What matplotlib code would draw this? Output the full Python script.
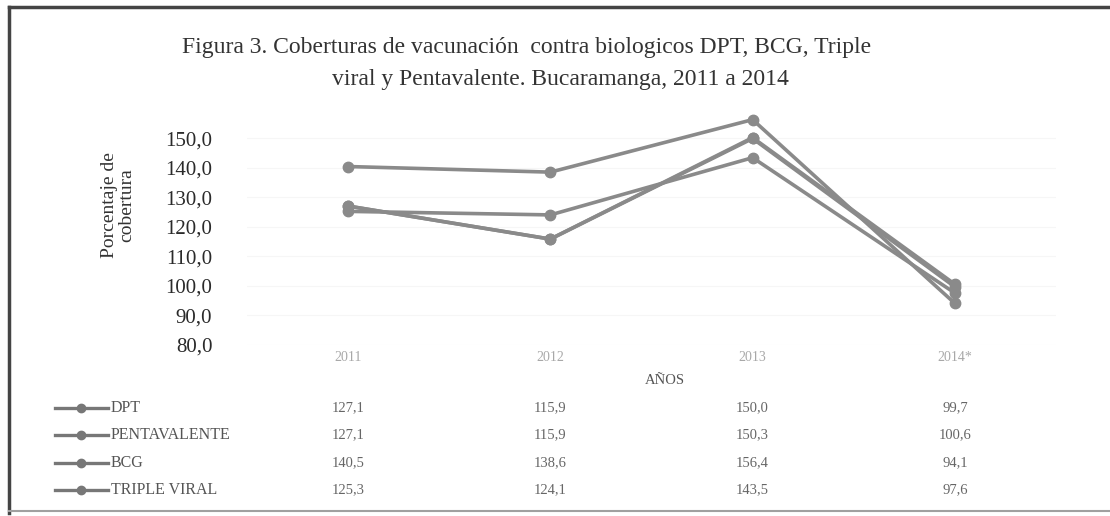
import matplotlib.pyplot as plt
from matplotlib.transforms import blended_transform_factory

plt.rcParams["font.family"] = ["Liberation Serif", "DejaVu Serif"]

years = ["2011", "2012", "2013", "2014*"]
series_names = ["DPT", "PENTAVALENTE", "BCG", "TRIPLE VIRAL"]
dpt = [127.1, 115.9, 150.0, 99.7]
pentavalente = [127.1, 115.9, 150.3, 100.6]
bcg = [140.5, 138.6, 156.4, 94.1]
triple_viral = [125.3, 124.1, 143.5, 97.6]
y_ticks = [80, 90, 100, 110, 120, 130, 140, 150]

title_1 = "Figura 3. Coberturas de vacunación  contra biologicos DPT, BCG, Triple"
title_2 = "viral y Pentavalente. Bucaramanga, 2011 a 2014"


def fmt(v):
    return f"{v:.1f}".replace(".", ",")


W, H = 1110, 516
fig = plt.figure(figsize=(W / 100, H / 100), dpi=100)

# overlay in pixel coordinates for frame, titles and the data table
ov = fig.add_axes([0, 0, 1, 1])
ov.set_xlim(0, W)
ov.set_ylim(H, 0)
ov.axis("off")

ax = fig.add_axes([247 / W, 1 - 345 / H, 809 / W, 236 / H])
ax.set_zorder(2)
ax.patch.set_alpha(0)

line_color = "#8a8a8a"
all_series = [dpt, pentavalente, bcg, triple_viral]
x = list(range(len(years)))
for vals in all_series:
    ax.plot(x, vals, color=line_color, lw=2.6, marker="o", ms=7.5, solid_capstyle="round")

ax.set_xlim(-0.5, len(years) - 0.5)
ax.set_ylim(80, 160)
ax.set_yticks(y_ticks)
ax.set_yticklabels([fmt(v) for v in y_ticks])
ax.set_xticks(x)
ax.set_xticklabels(years)
for s in ax.spines.values():
    s.set_visible(False)
ax.tick_params(axis="y", length=0, pad=25, labelsize=15, labelcolor="#2a2a2a")
ax.tick_params(axis="x", length=0, pad=4, labelsize=10, labelcolor="#a8a8a8")
ax.yaxis.grid(True, color="#f6f6f6", lw=0.8)
ax.set_axisbelow(True)

# frame
ov.plot([9, 9], [7, 513], color="#444444", lw=2.5)
ov.plot([9, W], [7, 7], color="#444444", lw=2.5)
ov.plot([9, W], [511, 511], color="#a0a0a0", lw=1.5)

# titles
ov.text(527, 47, title_1, ha="center", va="center", fontsize=17, color="#333333")
ov.text(560, 80, title_2, ha="center", va="center", fontsize=17, color="#333333")
ov.text(118, 205, "Porcentaje de\ncobertura", rotation=90, ha="center", va="center",
        fontsize=14, color="#333333", linespacing=1.0)
ov.text(665, 381, "AÑOS", ha="center", va="center", fontsize=10.5, color="#555555")

# data table with legend keys
row_y = [408, 435, 463, 490]
trans = blended_transform_factory(ax.transData, ov.transData)
for name, vals, y in zip(series_names, all_series, row_y):
    ov.plot([55, 108], [y, y], color="#777777", lw=2.4)
    ov.plot([81], [y], marker="o", ms=6, color="#777777")
    ov.text(111, y, name, ha="left", va="center", fontsize=11.5, color="#555555")
    for j, v in enumerate(vals):
        ov.text(j, y, fmt(v), transform=trans, ha="center", va="center",
                fontsize=10.5, color="#666666")

fig.savefig("out.png", dpi=100)
